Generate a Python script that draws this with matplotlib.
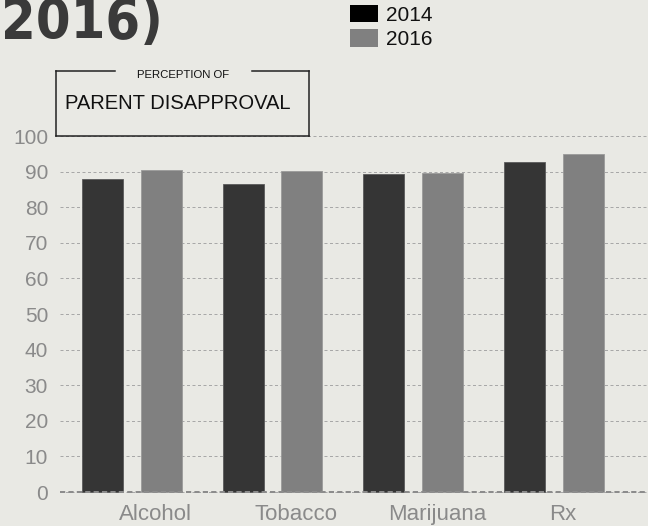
import matplotlib
matplotlib.use("Agg")
import matplotlib.pyplot as plt
import numpy as np
from matplotlib.patches import Patch, Rectangle
from matplotlib.lines import Line2D

categories = ["Alcohol", "Tobacco", "Marijuana", "Rx"]
years = ["2014", "2016"]
vals_2014 = [88.0, 86.4, 89.3, 92.7]
vals_2016 = [90.5, 90.1, 89.5, 94.9]
yticks = list(range(0, 101, 10))

BG = "#e9e9e4"
C14 = "#353535"
C16 = "#808080"
W, H = 648, 526

plt.rcParams["font.family"] = ["Liberation Sans", "DejaVu Sans"]

fig = plt.figure(figsize=(W / 100, H / 100), dpi=100, facecolor=BG)

# axes placed in pixel terms: 0 at y=492, 100 at y=136
px_per = 3.56
y_lo, y_hi = -1, 101
bot = (H - (492 + px_per)) / H
top = (H - (136 - px_per)) / H
ax = fig.add_axes([60 / W, bot, 1 - 60 / W, top - bot], facecolor=BG)

x = np.arange(len(categories))
bw = 0.292
off = 0.208
ax.bar(x - off, vals_2014, bw, color=C14, edgecolor="#5a5a5a", linewidth=0.6, zorder=2)
ax.bar(x + off, vals_2016, bw, color=C16, edgecolor="#9a9a9a", linewidth=0.6, zorder=2)

ax.set_xlim(-0.512, 3.67)
ax.set_ylim(y_lo, y_hi)
ax.set_yticks(yticks)
ax.set_yticklabels([str(t) for t in yticks])
ax.yaxis.grid(True, color="#a8a8a8", lw=0.72, ls=(0, (3, 2.5)))
ax.set_axisbelow(True)
ax.axhline(0, color="#8c8c8c", lw=1.44, ls=(0, (2.6, 1.6)), zorder=3)

label_shift = [0.17, 0.17, 0.17, 0.065]
ax.set_xticks(x + np.array(label_shift))
ax.set_xticklabels(categories)
ax.tick_params(axis="y", length=0, pad=8.6, labelsize=15, labelcolor="#8a8a8a")
ax.tick_params(axis="x", length=0, pad=6.2, labelsize=16, labelcolor="#8a8a8a")
for s in ax.spines.values():
    s.set_visible(False)

# box label over the top-left of the plot
def fx(px):
    return px / W

def fy(py):
    return 1 - py / H

fig.patches.append(Rectangle((fx(56), fy(136)), fx(309) - fx(56), fy(71) - fy(136),
                             transform=fig.transFigure, facecolor=BG, edgecolor="none", zorder=5))
box_lines = [
    ([56, 115], [71, 71]),
    ([252, 309], [71, 71]),
    ([56, 56], [71, 136]),
    ([309, 309], [71, 136]),
    ([56, 309], [136, 136]),
]
for xs, ys in box_lines:
    fig.lines.append(Line2D([fx(v) for v in xs], [fy(v) for v in ys],
                            transform=fig.transFigure, color="#222222", lw=1.1, zorder=6))
fig.text(fx(183), fy(75), "PERCEPTION OF", fontsize=8.2, color="#111111",
         ha="center", va="center", zorder=7)
fig.text(fx(178), fy(103), "PARENT DISAPPROVAL", fontsize=14.5, color="#111111",
         ha="center", va="center", zorder=7)

# cut-off heading
fig.text(fx(1), fy(38), "2016)", fontsize=40, fontweight="bold", color="#3a3a3a",
         family="DejaVu Sans", fontstretch="condensed", ha="left", va="baseline")

handles = [Patch(facecolor="#000000", edgecolor="none"),
           Patch(facecolor=C16, edgecolor="none")]
fig.legend(handles, years, loc="upper left", bbox_to_anchor=(fx(350), fy(5)),
           frameon=False, fontsize=15, borderpad=0, borderaxespad=0,
           handlelength=1.35, handleheight=0.9, handletextpad=0.38,
           labelspacing=0.22, labelcolor="#111111")

fig.savefig("out.png", dpi=100, facecolor=BG)
